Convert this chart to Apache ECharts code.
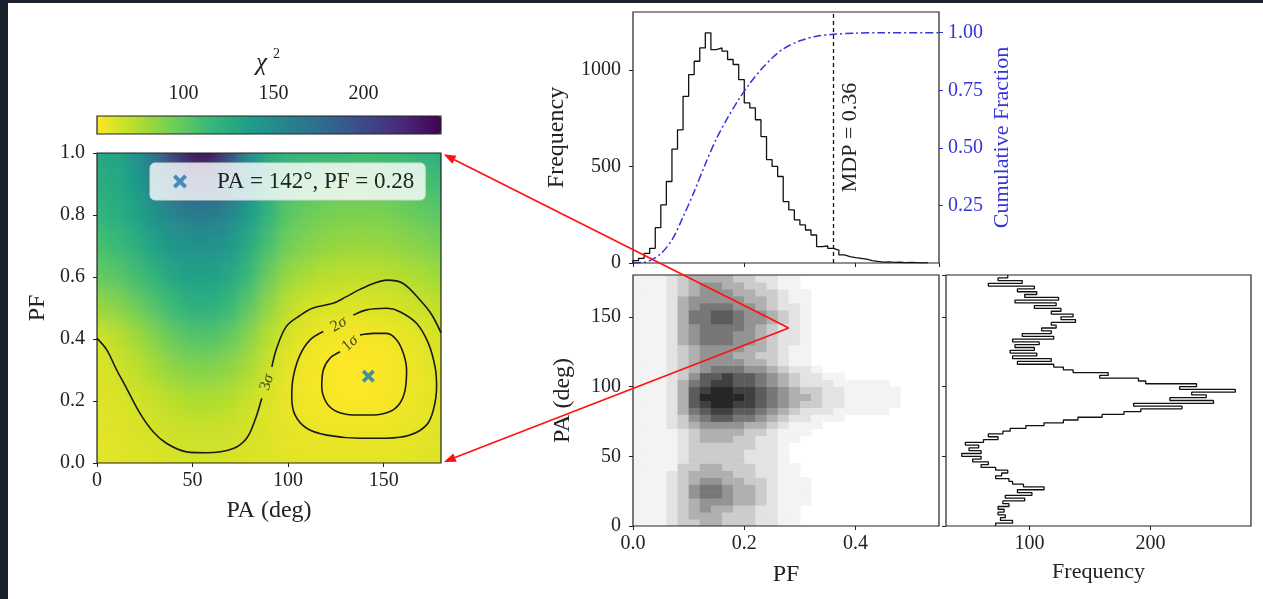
<!DOCTYPE html>
<html>
<head>
<meta charset="utf-8">
<script src="https://cdn.jsdelivr.net/npm/echarts@6/dist/echarts.min.js"></script>
<style>
  html, body { margin: 0; padding: 0; background: #1b212c; }
  #sheet { position: absolute; left: 8px; top: 3px; width: 1255px; height: 596px; background: #fff; }
  #heatClip { position: absolute; left: 97px; top: 153px; width: 344px; height: 310px; overflow: hidden; }
  #heat { position: absolute; left: -60px; top: -80px; width: 464px; height: 470px; filter: url(#soften); }
  #main { position: absolute; left: 0; top: 0; width: 1263px; height: 599px; }
</style>
</head>
<body>
<svg width="0" height="0" style="position:absolute">
  <filter id="soften" x="0" y="0" width="100%" height="100%"><feGaussianBlur stdDeviation="7 11"/></filter>
</svg>
<div id="sheet"></div>
<div id="heatClip"><div id="heat"></div></div>
<div id="main"></div>
<script>
// ---- chi2 map (left panel), rows PF 0.0 -> 1.0, columns PA 0 -> 180
const paGrid = [0, 10, 20, 30, 40, 50, 60, 70, 80, 90, 100, 110, 120, 130, 140, 150, 160, 170, 180];
const pfGrid = [0, 0.1, 0.2, 0.3, 0.4, 0.5, 0.6, 0.7, 0.8, 0.9, 1.0];
const chi2Rows = [
  [60, 60, 61, 62, 63, 63, 63, 63, 62, 61, 60, 60, 60, 60, 60, 60, 60, 61, 62],
  [60, 61, 62, 64, 66, 67, 67, 66, 64, 61, 59, 58, 57, 57, 57, 57, 58, 59, 61],
  [61, 62, 64, 68, 72, 75, 75, 72, 67, 62, 58, 55, 54, 53, 53, 54, 56, 58, 61],
  [62, 65, 70, 77, 84, 88, 88, 84, 76, 66, 59, 55, 53, 52, 52, 53, 55, 58, 62],
  [64, 70, 78, 88, 97, 104, 104, 97, 86, 72, 63, 58, 55, 54, 54, 55, 57, 60, 64],
  [82, 86, 94, 104, 114, 122, 122, 114, 100, 84, 70, 64, 62, 61, 61, 62, 64, 67, 70],
  [98, 102, 110, 120, 130, 134, 134, 128, 114, 96, 82, 76, 72, 70, 70, 71, 73, 76, 80],
  [108, 114, 122, 134, 142, 146, 146, 140, 126, 108, 94, 88, 84, 82, 82, 82, 85, 88, 92],
  [118, 124, 132, 146, 156, 162, 162, 154, 138, 118, 102, 96, 92, 90, 90, 91, 94, 98, 102],
  [124, 128, 138, 156, 178, 195, 195, 175, 148, 124, 110, 104, 101, 100, 100, 101, 104, 108, 112],
  [128, 132, 145, 170, 210, 240, 240, 200, 150, 126, 120, 118, 117, 115, 114, 114, 116, 120, 124]
];
const chiMin = 52;
const chiMax = 243;
const cbTicks = [100, 150, 200];

// contours: [PA, PF]
const sigma3a = [[0, 0.402], [5.1, 0.365], [10.3, 0.30], [15.5, 0.241], [22.5, 0.16], [29.5, 0.10], [36.5, 0.063],
  [46.9, 0.036], [57.4, 0.033], [71.3, 0.047], [78.3, 0.08], [82.7, 0.139], [86.2, 0.209]];
const sigma3b = [[91.5, 0.31], [94, 0.37], [99, 0.44], [106, 0.475], [113, 0.50], [123.5, 0.515], [130, 0.535],
  [137.6, 0.56], [145, 0.58], [151.7, 0.59], [160, 0.58], [169, 0.526], [175, 0.48], [180, 0.42]];
const sigma2 = [[134.1, 0.477], [141.1, 0.494], [151.6, 0.499], [158.5, 0.488], [167.3, 0.45], [173.4, 0.386],
  [176.9, 0.31], [177.7, 0.246], [176, 0.171], [172.5, 0.123], [163.8, 0.09], [151.6, 0.08], [137.6, 0.08],
  [120.2, 0.09], [109.7, 0.112], [103.6, 0.155], [101.9, 0.214], [102.7, 0.278], [106.2, 0.348], [111.5, 0.397], [118.4, 0.424]];
const sigma1 = [[137.6, 0.413], [144.6, 0.418], [151.6, 0.418], [156.8, 0.397], [160.3, 0.354], [162, 0.30],
  [161.2, 0.235], [158.5, 0.193], [153.3, 0.166], [144.6, 0.155], [134.1, 0.155], [125.4, 0.166], [120.2, 0.193],
  [117.6, 0.246], [118.4, 0.30], [121.9, 0.338], [127.2, 0.359]];
const sigmaLabels = [
  { name: '3', value: [88.9, 0.26], rot: 72 },
  { name: '2', value: [126.5, 0.447], rot: 29 },
  { name: '1', value: [132.4, 0.386], rot: 40 }
];
const bestPA = 142;
const bestPF = 0.28;

// ---- PF histogram (top panel)
const pfBinStep = 0.01;
const pfCounts = [12, 24, 50, 76, 183, 301, 422, 590, 690, 863, 976, 1045, 1114, 1192, 1105, 1114, 1097, 1054, 1028, 950,
  829, 803, 742, 655, 535, 500, 448, 318, 275, 223, 197, 171, 145, 85, 88, 76, 67, 42, 33, 28,
  24, 20, 12, 8, 5, 6, 3, 4, 2, 3, 2, 1, 2];
const cdfPF = [0, 0.02, 0.03, 0.05, 0.07, 0.09, 0.11, 0.13, 0.15, 0.17, 0.19, 0.21, 0.23, 0.25, 0.27, 0.30, 0.33, 0.36, 0.40, 0.45, 0.55];
const cdfFrac = [0, 0.003, 0.01, 0.04, 0.10, 0.20, 0.31, 0.43, 0.54, 0.63, 0.71, 0.78, 0.84, 0.89, 0.93, 0.965, 0.985, 0.993, 0.998, 1.0, 1.0];
const mdp = 0.36;

// ---- PA histogram (right panel), 2 deg bins from 0
const paBinStep = 2;
const paCounts = [72, 86, 76, 80, 74, 79, 74, 83, 78, 96, 80, 102, 90, 112, 95, 86, 83, 72, 77, 82,
  72, 60, 66, 53, 60, 44, 60, 50, 58, 47, 62, 74, 66, 78, 84, 97, 112, 128, 140, 160,
  178, 192, 226, 186, 252, 216, 246, 234, 270, 224, 238, 196, 190, 158, 165, 136, 128, 120, 90, 118,
  86, 106, 84, 104, 88, 108, 86, 120, 94, 118, 110, 122, 118, 138, 126, 136, 118, 126, 104, 122,
  88, 124, 96, 106, 90, 104, 66, 94, 74, 82];

// ---- PF vs PA 2D histogram: rows PA 0..180 (5 deg), columns PF 0..0.56 (0.02), shade levels 0-9
const hist2dPFStep = 0.02;
const hist2dPAStep = 5;
const hist2dRows = [
  '111233443332211',
  '111234443332211',
  '111234544332211',
  '1112345554432111',
  '1112356654432111',
  '1112356654432111',
  '1112345544332111',
  '111234444332211',
  '111133443332211',
  '11112333332221',
  '11112333332221',
  '11112333333221',
  '111123444332211',
  '1111234444332111',
  '11123455554432111',
  '1112356776654322111',
  '11124678877654322211111',
  '111247899887654332211111',
  '111247999987654432211111',
  '111247899887654332211111',
  '11124678877654322211111',
  '1112357787765432211',
  '11123456665543221',
  '1112345555443211',
  '1112345554433211',
  '1112345555443211',
  '1112456665543221',
  '1112456665543221',
  '1112456666543221',
  '1112466776554321',
  '1112466776554321',
  '1112456665543221',
  '1112455555443211',
  '1112345554433211',
  '111234554433211',
  '111234444332211'
];

const viridisR = ['#fde725', '#b5de2b', '#6ece58', '#35b779', '#1f9e89', '#26828e', '#31688e', '#3e4989', '#482878', '#440154'];
const greys = ['#ffffff', '#f3f3f3', '#e3e3e3', '#cccccc', '#b0b0b0', '#939393', '#777777', '#5c5c5c', '#404040', '#262626'];
const serif = "'Liberation Serif', 'DejaVu Serif', serif";
const ink = '#222';
const blue = '#3434d8';

// ================= softened chi2 layer =================
const PAD = 2;
const nc = paGrid.length, nr = pfGrid.length;
const cellW = 344 / (nc - 1), cellH = 310 / (nr - 1);
const heatData = [];
for (let r = -PAD; r < nr + PAD; r++) {
  for (let c = -PAD; c < nc + PAD; c++) {
    const rr = Math.min(nr - 1, Math.max(0, r));
    const cc = Math.min(nc - 1, Math.max(0, c));
    heatData.push([c + PAD, r + PAD, chi2Rows[rr][cc]]);
  }
}
const heatChart = echarts.init(document.getElementById('heat'));
heatChart.setOption({
  animation: false,
  grid: { left: 60 - (PAD + 0.5) * cellW, top: 80 - (PAD + 0.5) * cellH, width: (nc + 2 * PAD) * cellW, height: (nr + 2 * PAD) * cellH },
  xAxis: { type: 'category', show: false, data: Array.from({ length: nc + 2 * PAD }, (_, i) => i) },
  yAxis: { type: 'category', show: false, data: Array.from({ length: nr + 2 * PAD }, (_, i) => i) },
  visualMap: { show: false, min: chiMin, max: chiMax, dimension: 2, inRange: { color: viridisR } },
  series: [{ type: 'heatmap', data: heatData, itemStyle: { borderWidth: 0 }, progressive: 0 }]
});

// ================= main figure =================
const topHist = [[0, 0]];
pfCounts.forEach((v, i) => { topHist.push([i * pfBinStep, v], [(i + 1) * pfBinStep, v]); });
topHist.push([pfCounts.length * pfBinStep, 0]);

const rightHist = [];
paCounts.forEach((v, i) => { rightHist.push([v, i * paBinStep], [v, (i + 1) * paBinStep]); });

const cdfLine = cdfPF.map((x, i) => [x, cdfFrac[i]]);

const hist2d = [];
hist2dRows.forEach((row, r) => {
  row.split('').forEach((ch, c) => {
    const lv = +ch;
    if (lv > 0) hist2d.push([c * hist2dPFStep, r * hist2dPAStep, lv]);
  });
});

const xIcon = 'path://M-1,-0.6L-0.6,-1L0,-0.4L0.6,-1L1,-0.6L0.4,0L1,0.6L0.6,1L0,0.4L-0.6,1L-1,0.6L-0.4,0Z';
const tick = { show: true, length: 4, lineStyle: { color: ink, width: 1 } };
const lab = { color: ink, fontFamily: serif, fontSize: 20 };
const nameStyle = { color: ink, fontFamily: serif, fontSize: 24 };
const frame = { show: true, borderColor: ink, borderWidth: 1.2, backgroundColor: 'transparent', z: 10 };
const contour = (data) => ({
  type: 'line', xAxisIndex: 0, yAxisIndex: 0, data: data, smooth: 0.35, symbol: 'none',
  lineStyle: { color: '#1a1a1a', width: 1.6 }, silent: true
});

const chart = echarts.init(document.getElementById('main'));
chart.setOption({
  animation: false,
  backgroundColor: 'transparent',
  grid: [
    Object.assign({ left: 97, top: 153, width: 344, height: 310 }, frame),
    Object.assign({ left: 97, top: 116, width: 344, height: 18 }, frame),
    Object.assign({ left: 633, top: 12, width: 306, height: 251 }, frame),
    Object.assign({ left: 633, top: 275, width: 306, height: 251 }, frame),
    Object.assign({ left: 946, top: 275, width: 305, height: 251 }, frame)
  ],
  xAxis: [
    { gridIndex: 0, type: 'value', min: 0, max: 180, interval: 50, axisLine: { show: false }, axisTick: tick,
      axisLabel: Object.assign({ margin: 8, showMaxLabel: false }, lab), splitLine: { show: false },
      name: 'PA (deg)', nameLocation: 'middle', nameGap: 36, nameTextStyle: nameStyle },
    { gridIndex: 1, type: 'value', position: 'top', min: chiMin, max: chiMax, axisLine: { show: false },
      axisTick: Object.assign({ customValues: cbTicks }, tick),
      axisLabel: Object.assign({ customValues: cbTicks, margin: 12 }, lab), splitLine: { show: false } },
    { gridIndex: 2, type: 'value', min: 0, max: 0.55, interval: 0.2, axisLine: { show: false }, axisTick: tick,
      axisLabel: { show: false }, splitLine: { show: false } },
    { gridIndex: 3, type: 'value', min: 0, max: 0.55, interval: 0.2, axisLine: { show: false }, axisTick: tick,
      axisLabel: Object.assign({ margin: 8, showMaxLabel: false, formatter: v => v.toFixed(1) }, lab), splitLine: { show: false },
      name: 'PF', nameLocation: 'middle', nameGap: 37, nameTextStyle: nameStyle },
    { gridIndex: 4, type: 'value', min: 31, max: 283, axisLine: { show: false },
      axisTick: Object.assign({ customValues: [100, 200] }, tick),
      axisLabel: Object.assign({ customValues: [100, 200], margin: 8 }, lab), splitLine: { show: false },
      name: 'Frequency', nameLocation: 'middle', nameGap: 35, nameTextStyle: Object.assign({}, nameStyle, { fontSize: 22 }) }
  ],
  yAxis: [
    { gridIndex: 0, type: 'value', min: 0, max: 1, interval: 0.2, axisLine: { show: false }, axisTick: tick,
      axisLabel: Object.assign({ margin: 12, formatter: v => v.toFixed(1) }, lab), splitLine: { show: false },
      name: 'PF', nameLocation: 'middle', nameGap: 47, nameTextStyle: nameStyle },
    { gridIndex: 1, type: 'value', min: 0, max: 1, show: false },
    { gridIndex: 2, type: 'value', min: 0, max: 1300, interval: 500, axisLine: { show: false }, axisTick: tick,
      axisLabel: Object.assign({ margin: 12, showMaxLabel: false, formatter: v => String(v) }, lab), splitLine: { show: false },
      name: 'Frequency', nameLocation: 'middle', nameGap: 64, nameTextStyle: nameStyle },
    { gridIndex: 2, type: 'value', position: 'right', min: 0, max: 1.09, interval: 0.25, axisLine: { show: false },
      axisTick: { show: true, length: 4, lineStyle: { color: blue } },
      axisLabel: Object.assign({}, lab, { color: blue, margin: 9, showMinLabel: false, showMaxLabel: false, formatter: v => v.toFixed(2) }),
      splitLine: { show: false },
      name: 'Cumulative Fraction', nameLocation: 'middle', nameGap: 52, nameRotate: 90,
      nameTextStyle: Object.assign({}, nameStyle, { color: blue, fontSize: 22 }) },
    { gridIndex: 3, type: 'value', min: 0, max: 180, interval: 50, axisLine: { show: false }, axisTick: tick,
      axisLabel: Object.assign({ margin: 12, showMaxLabel: false }, lab), splitLine: { show: false },
      name: 'PA (deg)', nameLocation: 'middle', nameGap: 58, nameTextStyle: nameStyle },
    { gridIndex: 4, type: 'value', min: 0, max: 180, interval: 50, axisLine: { show: false }, axisTick: tick,
      axisLabel: { show: false }, splitLine: { show: false } }
  ],
  visualMap: [
    { type: 'continuous', seriesIndex: 6, min: chiMin, max: chiMax, orient: 'horizontal', left: 97, top: 116,
      itemWidth: 18, itemHeight: 344, padding: 0, calculable: false, inRange: { color: viridisR } },
    { type: 'continuous', seriesIndex: 9, dimension: 2, min: 0, max: 9, show: false, inRange: { color: greys } }
  ],
  legend: {
    data: ['PA = 142°, PF = 0.28'], left: 150, top: 163, icon: xIcon, itemWidth: 14, itemHeight: 14,
    backgroundColor: 'rgba(255,255,255,0.8)', borderColor: '#d6d6d6', borderWidth: 1, borderRadius: 5,
    padding: [7, 11, 7, 23], textStyle: { color: ink, fontFamily: serif, fontSize: 23, padding: [0, 0, 0, 25] }
  },
  series: [
    contour(sigma3a),
    contour(sigma3b),
    contour(sigma2),
    contour(sigma1),
    { type: 'scatter', xAxisIndex: 0, yAxisIndex: 0, symbolSize: 0, silent: true,
      data: sigmaLabels.map(d => ({ name: d.name, value: d.value, label: { rotate: d.rot } })),
      label: { show: true, position: 'inside', formatter: '{n|{b}}{s|σ}',
        rich: { n: { fontFamily: serif, fontSize: 16, color: ink }, s: { fontFamily: serif, fontSize: 16, fontStyle: 'italic', color: ink } } } },
    { type: 'scatter', name: 'PA = 142°, PF = 0.28', xAxisIndex: 0, yAxisIndex: 0, symbol: xIcon, symbolSize: 13,
      itemStyle: { color: '#1f77b4' }, data: [[bestPA, bestPF]], z: 5 },
    { type: 'scatter', xAxisIndex: 1, yAxisIndex: 1, data: [] },
    { type: 'line', xAxisIndex: 2, yAxisIndex: 2, data: topHist, symbol: 'none', silent: true,
      lineStyle: { color: '#111', width: 1.3 },
      markLine: { symbol: ['none', 'none'], silent: true, lineStyle: { color: '#111', width: 1.3, type: [4, 3] },
        label: { show: true, position: 'insideMiddleBottom', formatter: 'MDP = ' + mdp.toFixed(2), color: ink, fontFamily: serif, fontSize: 22, distance: 6 },
        data: [{ xAxis: mdp }] } },
    { type: 'line', xAxisIndex: 2, yAxisIndex: 3, data: cdfLine, symbol: 'none', smooth: 0.3, silent: true,
      lineStyle: { color: blue, width: 1.5, type: [8, 3, 2, 3] } },
    { type: 'custom', xAxisIndex: 3, yAxisIndex: 4, data: hist2d, clip: true, silent: true,
      encode: { x: 0, y: 1 },
      renderItem: function (params, api) {
        const c = api.coord([api.value(0), api.value(1)]);
        const s = api.size([hist2dPFStep, hist2dPAStep]);
        return { type: 'rect', shape: { x: c[0], y: c[1] - s[1], width: s[0] + 0.5, height: s[1] + 0.5 },
          style: { fill: api.visual('color') } };
      } },
    { type: 'line', xAxisIndex: 4, yAxisIndex: 5, data: rightHist, symbol: 'none', silent: true,
      lineStyle: { color: '#111', width: 1.3 } }
  ]
});

// red arrows from the best fit in the PF/PA panel to the chi2 map corners
const pStart = chart.convertToPixel({ gridIndex: 3 }, [bestPF, bestPA]);
const pTop = chart.convertToPixel({ gridIndex: 0 }, [180, 1]);
const pBot = chart.convertToPixel({ gridIndex: 0 }, [180, 0]);
function arrow(from, to) {
  const dx = to[0] - from[0], dy = to[1] - from[1], len = Math.hypot(dx, dy);
  const ux = dx / len, uy = dy / len;
  const tip = [to[0] - ux * 3, to[1] - uy * 3];
  const base = [tip[0] - ux * 12, tip[1] - uy * 12];
  const px = -uy, py = ux;
  return [
    { type: 'line', z: 100, shape: { x1: from[0], y1: from[1], x2: base[0], y2: base[1] }, style: { stroke: '#ff1010', lineWidth: 1.6 } },
    { type: 'polygon', z: 100, shape: { points: [tip, [base[0] + px * 4.5, base[1] + py * 4.5], [base[0] - px * 4.5, base[1] - py * 4.5]] },
      style: { fill: '#ff1010' } }
  ];
}
chart.setOption({
  graphic: [
    { type: 'text', left: 256, top: 51, style: { text: 'χ', font: 'italic 25px ' + serif, fill: ink } },
    { type: 'text', left: 273, top: 47, style: { text: '2', font: '14px ' + serif, fill: ink } }
  ].concat(arrow(pStart, pTop), arrow(pStart, pBot))
});
</script>
</body>
</html>
